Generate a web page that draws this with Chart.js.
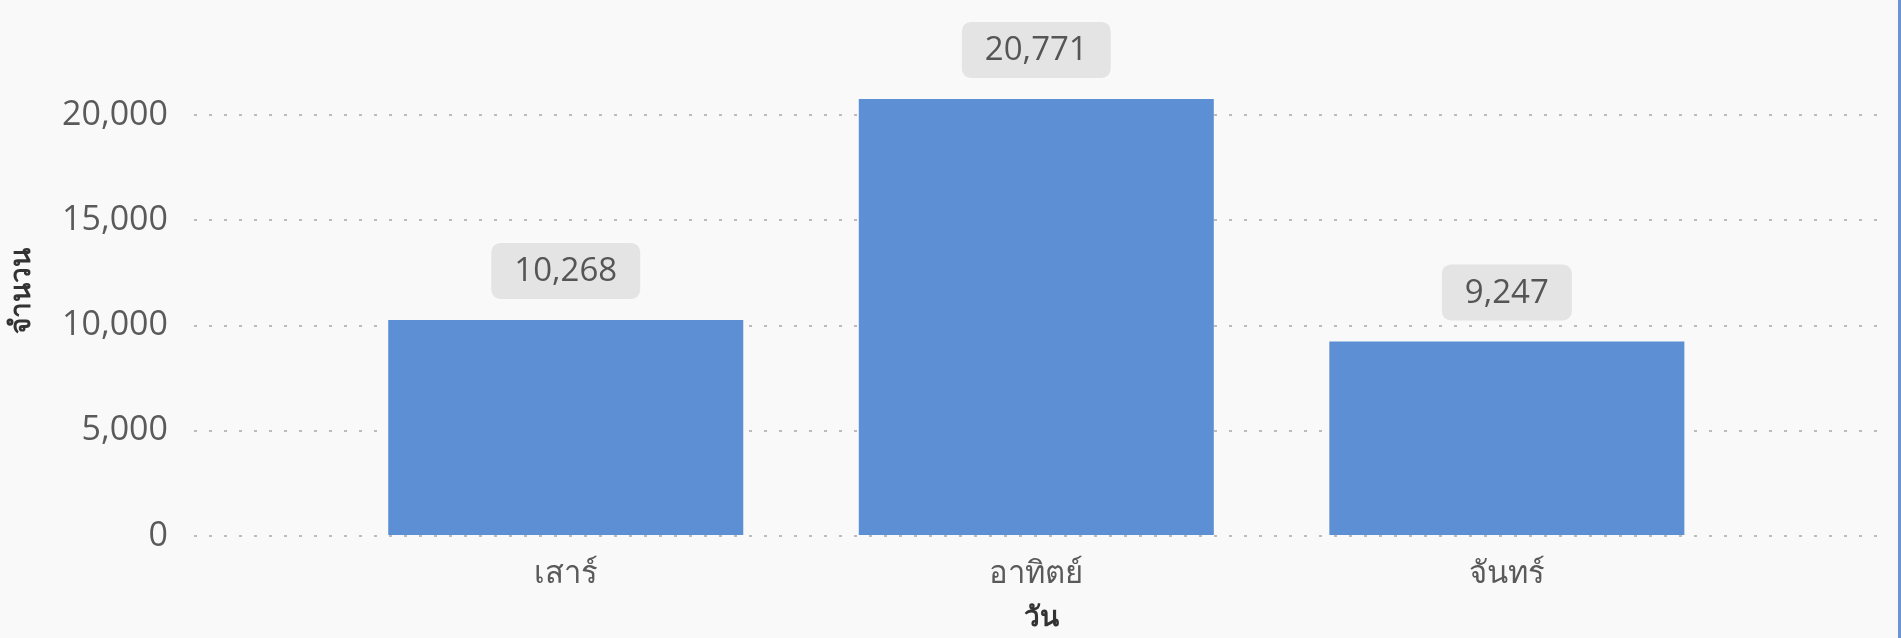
<!DOCTYPE html>
<html>
<head>
<meta charset="utf-8">
<script src="https://cdn.jsdelivr.net/npm/chart.js@4"></script>
<style>
  html, body { margin: 0; padding: 0; background: #f9f9f9; overflow: hidden; }
  #wrap { width: 1898px; height: 638px; border-right: 3px solid #6b93d6; }
</style>
</head>
<body>
<div id="wrap"><canvas id="chart" width="1898" height="638"></canvas></div>
<script>
// days and counts
const days = ["เสาร์", "อาทิตย์", "จันทร์"];
const counts = [10268, 20771, 9247];
const yTicks = [0, 5000, 10000, 15000, 20000];

const FONT = "'Open Sans', 'Noto Sans', sans-serif";

// value boxes over the bars
const valueBoxes = {
  id: "valueBoxes",
  afterDatasetsDraw(chart) {
    const ctx = chart.ctx;
    const meta = chart.getDatasetMeta(0);
    ctx.save();
    ctx.font = "33px " + FONT;
    ctx.textAlign = "center";
    ctx.textBaseline = "middle";
    meta.data.forEach((bar, i) => {
      const text = counts[i].toLocaleString("en-US");
      const w = ctx.measureText(text).width + 46;
      const h = 56;
      const x = bar.x - w / 2;
      const y = bar.y - 21 - h;
      ctx.fillStyle = "#e4e4e4";
      ctx.beginPath();
      ctx.roundRect(x, y, w, h, 9);
      ctx.fill();
      ctx.fillStyle = "#555555";
      ctx.fillText(text, bar.x, y + h / 2 + 1);
    });
    ctx.restore();
  },
};

new Chart(document.getElementById("chart"), {
  type: "bar",
  data: {
    datasets: [
      {
        data: counts.map((v, i) => ({ x: i, y: v })),
        backgroundColor: "#5d8fd5",
        categoryPercentage: 0.7545,
        barPercentage: 1,
      },
    ],
  },
  options: {
    responsive: false,
    animation: false,
    layout: { padding: { top: 16, right: 10, left: 0, bottom: 0 } },
    plugins: { legend: { display: false }, tooltip: { enabled: false } },
    scales: {
      x: {
        type: "linear",
        offset: false,
        min: -0.79,
        max: 2.81,
        afterBuildTicks: (s) => { s.ticks = days.map((d, i) => ({ value: i })); },
        afterFit: (s) => { s.height = 102; },
        grid: { display: false, offset: false },
        border: { display: false },
        ticks: {
          padding: 12,
          color: "#5a5a5a",
          font: { family: FONT, size: 31 },
          callback: (v) => days[v],
        },
        title: {
          display: true,
          text: "วัน",
          color: "#333333",
          font: { family: FONT, size: 28, weight: "bold" },
          padding: { top: 0, bottom: 3 },
        },
      },
      y: {
        min: 0,
        max: 23270,
        afterBuildTicks: (s) => { s.ticks = yTicks.map((v) => ({ value: v })); },
        afterFit: (s) => { s.width = 194; },
        border: { display: false, dash: [3, 12] },
        grid: {
          color: "#bcbcbc",
          lineWidth: 2,
          drawTicks: false,
        },
        ticks: {
          padding: 26,
          color: "#5a5a5a",
          font: { family: FONT, size: 34 },
          callback: (v) => v.toLocaleString("en-US"),
        },
        title: {
          display: true,
          text: "จำนวน",
          color: "#333333",
          font: { family: FONT, size: 28, weight: "bold" },
          padding: { top: 5, bottom: 0 },
        },
      },
    },
  },
  plugins: [valueBoxes],
});
</script>
</body>
</html>
